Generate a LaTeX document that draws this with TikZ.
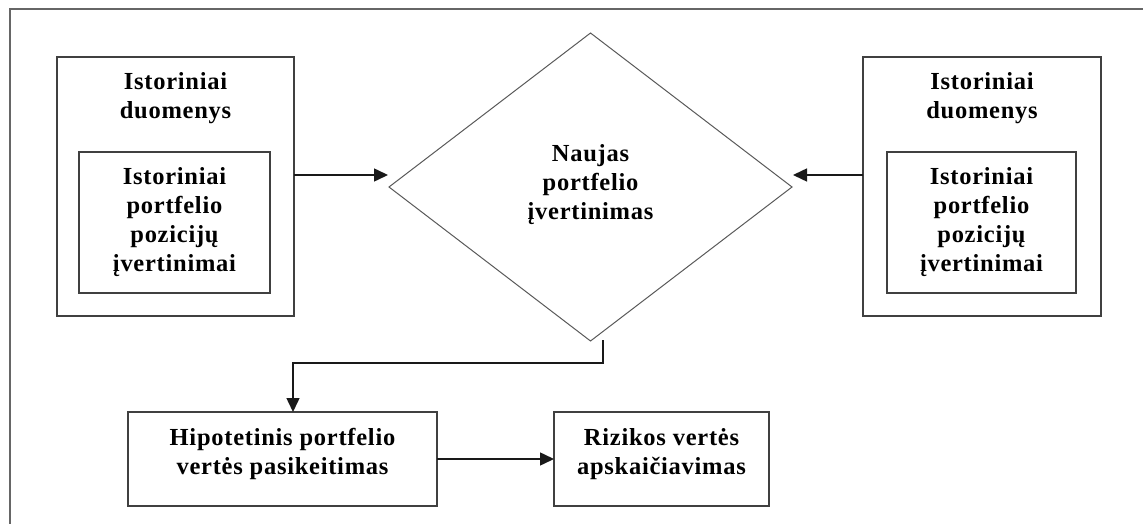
\documentclass[tikz,border=0pt]{standalone}
\usepackage{fontspec}
\setmainfont{Liberation Serif}[LetterSpace=3]
\usetikzlibrary{shapes.geometric,arrows.meta}
\tikzset{
  box/.style={draw=black!75, line width=1.4pt, inner sep=0pt, outer sep=0pt},
  dia/.style={draw=black!65, line width=1pt, shape=diamond, inner sep=0pt, outer sep=0pt},
  lbl/.style={align=center, font=\bfseries\fontsize{24.5}{29}\selectfont, inner sep=0pt},
  conn/.style={line width=1.5pt, draw=black!90, -{Triangle[length=14pt,width=13pt]}},
  frame/.style={draw=black!60, line width=1.5pt}
}
\begin{document}
\begin{tikzpicture}[x=1pt,y=-1pt]
\useasboundingbox (0,0) rectangle (1143,524);
\draw[frame] (10,524) -- (10,9) -- (1143,9);
% left block
\node[box, minimum width=237pt, minimum height=259pt] (lout) at (175.5,186.5) {};
\node[lbl] (ltitle) at (175.5,98) {Istoriniai\\duomenys};
\node[box, minimum width=191pt, minimum height=141pt] (lin) at (174.5,222.5) {};
\node[lbl] (lintext) at (lin.center) {Istoriniai\\portfelio\\pozicijų\\įvertinimai};
% right block
\node[box, minimum width=238pt, minimum height=259pt] (rout) at (982,186.5) {};
\node[lbl] (rtitle) at (982,98) {Istoriniai\\duomenys};
\node[box, minimum width=189pt, minimum height=141pt] (rin) at (981.5,222.5) {};
\node[lbl] (rintext) at (rin.center) {Istoriniai\\portfelio\\pozicijų\\įvertinimai};
% diamond
\node[dia, minimum width=403pt, minimum height=308pt] (dm) at (590.5,187) {};
\node[lbl] (dmtext) at (590.5,185) {Naujas\\portfelio\\įvertinimas};
% bottom boxes
\node[box, minimum width=309pt, minimum height=94pt] (hyp) at (282.5,459) {};
\node[lbl] (hyptext) at (282.5,454) {Hipotetinis portfelio\\vertės pasikeitimas};
\node[box, minimum width=215pt, minimum height=94pt] (riz) at (661.5,459) {};
\node[lbl] (riztext) at (661.5,454) {Rizikos vertės\\apskaičiavimas};
% connectors
\coordinate (la) at (388,175);
\coordinate (ra) at (793,175);
\coordinate (db) at (603,340);
\coordinate (hb) at (293,363);
\draw[conn] (la -| lout.east) -- (la);
\draw[conn] (ra -| rout.west) -- (ra);
\draw[conn] (db) |- (hb) -- (hb |- hyp.north);
\draw[conn] (hyp.east) -- (riz.west);
\end{tikzpicture}
\end{document}
